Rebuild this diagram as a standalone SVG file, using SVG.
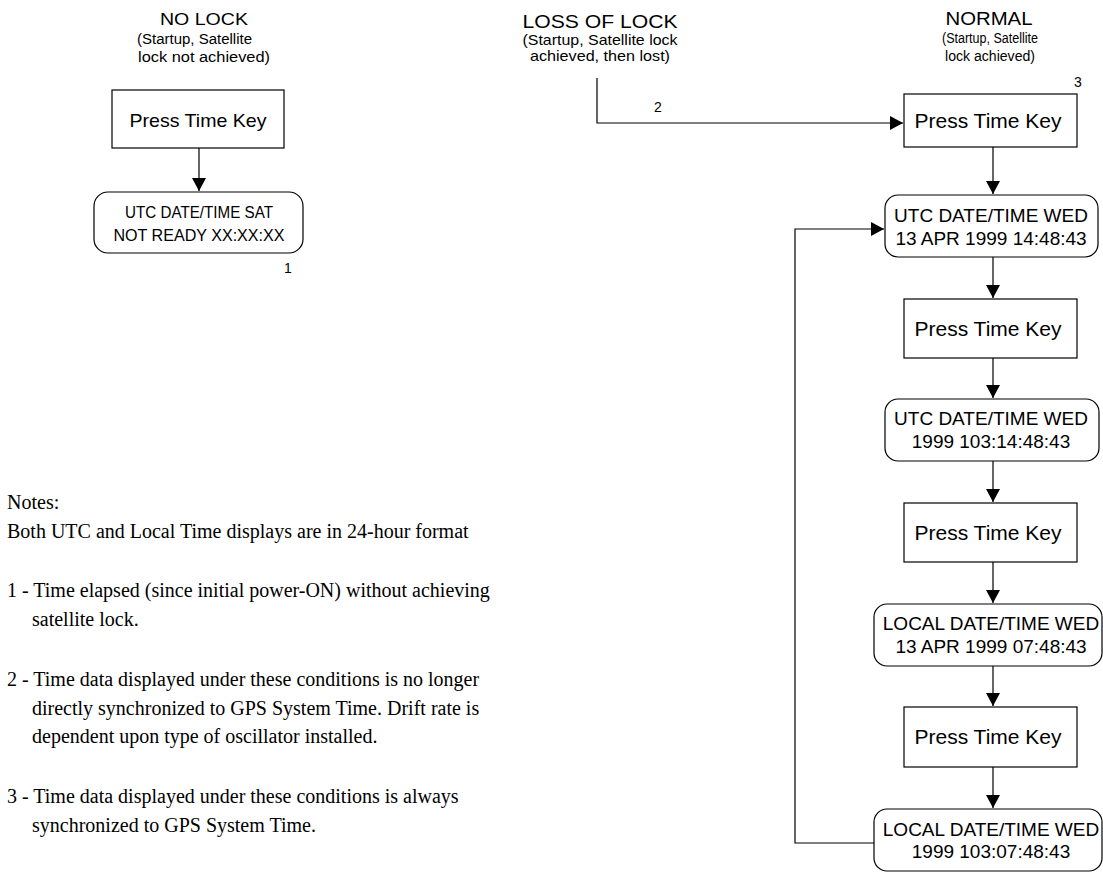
<svg xmlns="http://www.w3.org/2000/svg" width="1103" height="872" viewBox="0 0 1103 872">
<style>
.box{fill:#fff;stroke:#000;stroke-width:1.2}
.ln{fill:none;stroke:#000;stroke-width:1.2}
.s{font-family:"Liberation Sans",Arial,sans-serif;fill:#000}
.t{font-family:"Liberation Serif","Times New Roman",serif;font-size:20px;fill:#000}
.k{font-size:19px;text-anchor:middle}
.p{font-size:21px;text-anchor:middle}
.c{text-anchor:middle}
</style>
<defs>
<marker id="ah" markerUnits="userSpaceOnUse" markerWidth="13" markerHeight="14" refX="13" refY="7" orient="auto">
<path d="M0,0 L13,7 L0,14 z" fill="#000"/>
</marker>
</defs>
<rect width="1103" height="872" fill="#fff"/>

<g id="connectors">
<path class="ln" d="M199,148 V191" marker-end="url(#ah)"/>
<path class="ln" d="M597,78 V123 H903" marker-end="url(#ah)"/>
<path class="ln" d="M993,147 V194" marker-end="url(#ah)"/>
<path class="ln" d="M993,257 V298" marker-end="url(#ah)"/>
<path class="ln" d="M993,358 V398" marker-end="url(#ah)"/>
<path class="ln" d="M993,461 V502" marker-end="url(#ah)"/>
<path class="ln" d="M993,562 V603" marker-end="url(#ah)"/>
<path class="ln" d="M993,666 V706" marker-end="url(#ah)"/>
<path class="ln" d="M993,767 V808" marker-end="url(#ah)"/>
<path class="ln" d="M874,843 H795 V229 H884" marker-end="url(#ah)"/>
</g>

<g id="hdr-nolock">
<text class="s c" x="204" y="25" font-size="17" textLength="88" lengthAdjust="spacingAndGlyphs">NO LOCK</text>
<text class="s" x="137" y="44" font-size="14" textLength="115" lengthAdjust="spacingAndGlyphs">(Startup, Satellite</text>
<text class="s" x="138" y="62" font-size="14" textLength="132" lengthAdjust="spacingAndGlyphs">lock not achieved)</text>
</g>
<g id="nl-key">
<rect class="box" x="112" y="90" width="172" height="58"/>
<text class="s k" x="198" y="127" textLength="137" lengthAdjust="spacingAndGlyphs">Press Time Key</text>
</g>
<g id="nl-disp">
<rect class="box" x="94" y="192" width="209" height="61" rx="14"/>
<text class="s c" x="199" y="218" font-size="16" textLength="148" lengthAdjust="spacingAndGlyphs">UTC DATE/TIME SAT</text>
<text class="s c" x="199" y="241" font-size="16" textLength="171" lengthAdjust="spacingAndGlyphs">NOT READY XX:XX:XX</text>
<text class="s c" x="288" y="273" font-size="14">1</text>
</g>

<g id="hdr-loss">
<text class="s c" x="600" y="28" font-size="18" textLength="155" lengthAdjust="spacingAndGlyphs">LOSS OF LOCK</text>
<text class="s c" x="600" y="45" font-size="15" textLength="155" lengthAdjust="spacingAndGlyphs">(Startup, Satellite lock</text>
<text class="s c" x="600" y="61" font-size="15" textLength="140" lengthAdjust="spacingAndGlyphs">achieved, then lost)</text>
<text class="s c" x="658" y="112" font-size="14">2</text>
</g>

<g id="hdr-normal">
<text class="s c" x="989" y="25" font-size="18" textLength="87" lengthAdjust="spacingAndGlyphs">NORMAL</text>
<text class="s c" x="990" y="43" font-size="14" textLength="96" lengthAdjust="spacingAndGlyphs">(Startup, Satellite</text>
<text class="s c" x="990" y="61" font-size="14" textLength="90" lengthAdjust="spacingAndGlyphs">lock achieved)</text>
<text class="s c" x="1078" y="87" font-size="14">3</text>
</g>

<g id="key1">
<rect class="box" x="904" y="94" width="173" height="53"/>
<text class="s p" x="988" y="128">Press Time Key</text>
</g>
<g id="disp1">
<rect class="box" x="885" y="195" width="213" height="62" rx="13"/>
<text class="s k" x="991" y="222">UTC DATE/TIME WED</text>
<text class="s k" x="991" y="245">13 APR 1999 14:48:43</text>
</g>
<g id="key2">
<rect class="box" x="904" y="299" width="173" height="59"/>
<text class="s p" x="988" y="336">Press Time Key</text>
</g>
<g id="disp2">
<rect class="box" x="885" y="399" width="214" height="62" rx="13"/>
<text class="s k" x="991" y="425">UTC DATE/TIME WED</text>
<text class="s k" x="991" y="448">1999 103:14:48:43</text>
</g>
<g id="key3">
<rect class="box" x="904" y="503" width="173" height="59"/>
<text class="s p" x="988" y="540">Press Time Key</text>
</g>
<g id="disp3">
<rect class="box" x="874" y="604" width="228" height="62" rx="13"/>
<text class="s k" x="991" y="630">LOCAL DATE/TIME WED</text>
<text class="s k" x="991" y="653">13 APR 1999 07:48:43</text>
</g>
<g id="key4">
<rect class="box" x="904" y="707" width="173" height="60"/>
<text class="s p" x="988" y="744">Press Time Key</text>
</g>
<g id="disp4">
<rect class="box" x="874" y="809" width="228" height="62" rx="13"/>
<text class="s k" x="991" y="836">LOCAL DATE/TIME WED</text>
<text class="s k" x="991" y="858">1999 103:07:48:43</text>
</g>

<g id="notes">
<text class="t" x="7" y="509">Notes:</text>
<text class="t" x="7" y="538">Both UTC and Local Time displays are in 24-hour format</text>
<text class="t" x="7" y="597">1 - Time elapsed (since initial power-ON) without achieving</text>
<text class="t" x="32" y="626">satellite lock.</text>
<text class="t" x="7" y="686">2 - Time data displayed under these conditions is no longer</text>
<text class="t" x="32" y="715">directly synchronized to GPS System Time. Drift rate is</text>
<text class="t" x="32" y="743">dependent upon type of oscillator installed.</text>
<text class="t" x="7" y="803">3 - Time data displayed under these conditions is always</text>
<text class="t" x="32" y="832">synchronized to GPS System Time.</text>
</g>
</svg>
